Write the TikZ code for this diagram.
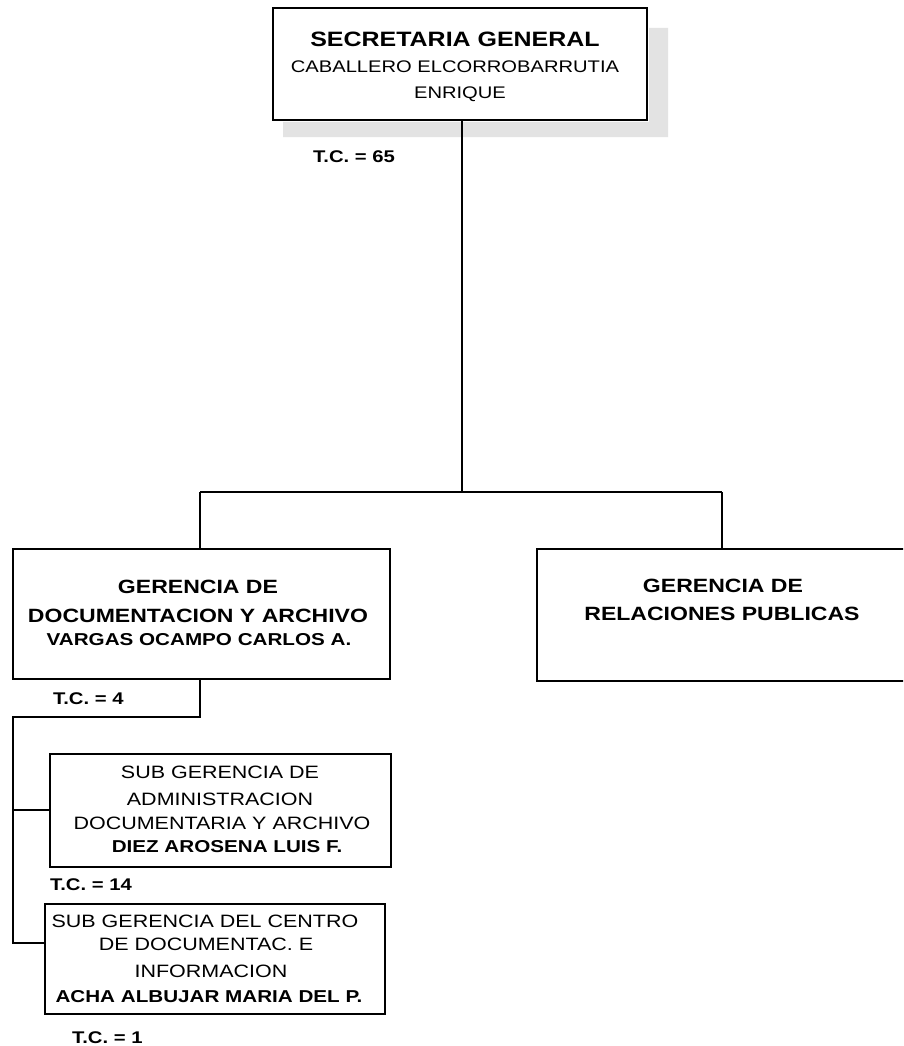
\documentclass[tikz,border=0pt]{standalone}
\usepackage{graphicx}
\usepackage{fontspec}
\setmainfont{Liberation Sans}
\newcommand\fsz[1]{\fontsize{#1}{#1}\selectfont}
\newcommand\wt[1]{\scalebox{1.2}[1]{#1}}
\begin{document}
\begin{tikzpicture}[x=1pt,y=-1pt,
  box/.style={draw=black,line width=2pt,rectangle,inner sep=0pt,fill=white},
  conn/.style={draw=black,line width=1.8pt},
  lbl/.style={inner sep=0pt,anchor=base},
  tcl/.style={inner sep=0pt,anchor=base west,font=\fsz{16.9}\bfseries}]
\path[use as bounding box,clip] (0,0) rectangle (903,1046);
\fill[white] (0,0) rectangle (903,1046);
% shadow of top box
\fill[gray!22] (649,28) -- (668,28) -- (668,137) -- (283,137) -- (283,122) -- (649,122) -- cycle;
% boxes
\node[box,minimum width=374pt,minimum height=112pt] (top) at (460,64) {};
\node[box,minimum width=377pt,minimum height=130pt] (gda) at (201.5,614) {};
\node[box,minimum width=380pt,minimum height=132pt] (grp) at (727,615) {};
\node[box,minimum width=341pt,minimum height=113pt] (sg1) at (220.5,810.5) {};
\node[box,minimum width=340pt,minimum height=110pt] (sg2) at (215,959) {};
% top box text
\node[lbl,font=\fsz{20.8}\bfseries] (t1a) at (455,46.5) {\wt{SECRETARIA GENERAL}};
\node[lbl,font=\fsz{16.8}] (t1b) at (455,72.5) {\wt{CABALLERO ELCORROBARRUTIA}};
\node[lbl,font=\fsz{16.8}] (t1c) at (460,99) {\wt{ENRIQUE}};
\node[tcl] (tc65) at (313,162) {\wt{T.C. = 65}};
% left gerencia
\node[lbl,font=\fsz{19.2}\bfseries] (t2a) at (198,593) {\wt{GERENCIA DE}};
\node[lbl,font=\fsz{19.2}\bfseries] (t2b) at (198,622) {\wt{DOCUMENTACION Y ARCHIVO}};
\node[lbl,font=\fsz{17.2}\bfseries] (t2c) at (199,645) {\wt{VARGAS OCAMPO CARLOS A.}};
\node[tcl] (tc4) at (53,704) {\wt{T.C. = 4}};
% right gerencia
\node[lbl,font=\fsz{19.2}\bfseries] (t3a) at (723,592) {\wt{GERENCIA DE}};
\node[lbl,font=\fsz{19.2}\bfseries] (t3b) at (722,620) {\wt{RELACIONES PUBLICAS}};
% sub gerencia 1
\node[lbl,font=\fsz{17.9}] (t4a) at (220,778) {\wt{SUB GERENCIA DE}};
\node[lbl,font=\fsz{17.9}] (t4b) at (220,805.5) {\wt{ADMINISTRACION}};
\node[lbl,font=\fsz{17.9}] (t4c) at (222,829) {\wt{DOCUMENTARIA Y ARCHIVO}};
\node[lbl,font=\fsz{17.2}\bfseries] (t4d) at (227,852) {\wt{DIEZ AROSENA LUIS F.}};
\node[tcl] (tc14) at (50,890) {\wt{T.C. = 14}};
% sub gerencia 2
\node[lbl,font=\fsz{17.9}] (t5a) at (205,927) {\wt{SUB GERENCIA DEL CENTRO}};
\node[lbl,font=\fsz{17.9}] (t5b) at (206,950) {\wt{DE DOCUMENTAC. E}};
\node[lbl,font=\fsz{17.9}] (t5c) at (211,977) {\wt{INFORMACION}};
\node[lbl,font=\fsz{17.2}\bfseries] (t5d) at (209,1002) {\wt{ACHA ALBUJAR MARIA DEL P.}};
\node[tcl] (tc1) at (72,1043) {\wt{T.C. = 1}};
% connectors
\coordinate (j0) at (462,492);
\coordinate (jl) at (200,492);
\coordinate (jr) at (722,492);
\coordinate (k0) at (200,717);
\coordinate (k1) at (13,717);
\coordinate (k2) at (13,810);
\coordinate (k3) at (13,943);
\draw[conn] (top.south -| j0) -- (j0);
\draw[conn] (jl) -- (jr);
\draw[conn] (jl) -- (gda.north -| jl);
\draw[conn] (jr) -- (grp.north -| jr);
\draw[conn] (gda.south -| k0) -- (k0) -- (k1) -- (k3) -- (sg2.west |- k3);
\draw[conn] (k2) -- (sg1.west |- k2);
\end{tikzpicture}
\end{document}
